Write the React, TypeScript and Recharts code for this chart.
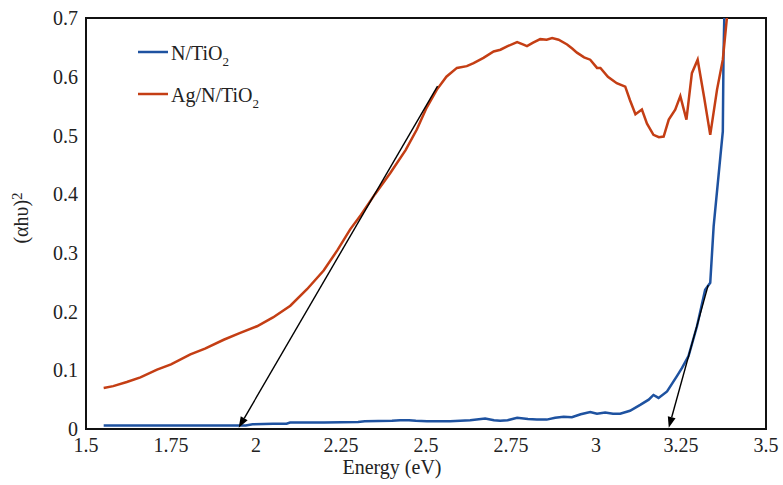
import React from 'react';
import { ComposedChart, Line, XAxis, YAxis, ReferenceLine, ReferenceArea, Label } from 'recharts';

const agEnergy = [
  1.552, 1.58, 1.62, 1.66, 1.709, 1.75, 1.807, 1.85, 1.905, 1.95, 2.003, 2.05, 2.101, 2.15, 2.199,
  2.24, 2.277, 2.309, 2.35, 2.395, 2.44, 2.473, 2.5, 2.532, 2.56, 2.591, 2.62, 2.64, 2.669, 2.699,
  2.719, 2.74, 2.768, 2.785, 2.797, 2.815, 2.836, 2.855, 2.871, 2.89, 2.915, 2.93, 2.944, 2.965,
  2.983, 3.003, 3.013, 3.035, 3.061, 3.086, 3.1, 3.116, 3.135, 3.15, 3.169, 3.185, 3.199, 3.214,
  3.233, 3.248, 3.266, 3.282, 3.299, 3.318, 3.336, 3.356, 3.373, 3.385, 3.39,
];
const agValues = [
  0.07, 0.073, 0.08, 0.088, 0.101, 0.11, 0.127, 0.137, 0.152, 0.163, 0.175, 0.19, 0.21, 0.238, 0.27,
  0.305, 0.34, 0.365, 0.4, 0.436, 0.475, 0.51, 0.545, 0.578, 0.6, 0.615, 0.618, 0.623, 0.632, 0.643,
  0.646, 0.652, 0.659, 0.655, 0.652, 0.658, 0.664, 0.663, 0.666, 0.663, 0.655, 0.648, 0.641, 0.633,
  0.629, 0.615, 0.615, 0.6, 0.589, 0.583, 0.56, 0.536, 0.544, 0.52, 0.501, 0.497, 0.498, 0.527,
  0.544, 0.567, 0.527, 0.606, 0.629, 0.565, 0.501, 0.578, 0.629, 0.7, 0.74,
];

const nEnergy = [
  1.552, 1.7, 1.85, 1.97, 1.99, 2.05, 2.09, 2.1, 2.2, 2.3, 2.32, 2.4, 2.424, 2.45, 2.47, 2.503,
  2.571, 2.63, 2.674, 2.7, 2.718, 2.74, 2.768, 2.8, 2.826, 2.855, 2.88, 2.905, 2.929, 2.955, 2.983,
  3.003, 3.027, 3.05, 3.071, 3.1, 3.13, 3.155, 3.169, 3.184, 3.209, 3.238, 3.253, 3.272, 3.297,
  3.321, 3.336, 3.346, 3.366, 3.373, 3.375, 3.378,
];
const nValues = [
  0.006, 0.006, 0.006, 0.006, 0.008, 0.009, 0.009, 0.011, 0.011, 0.012, 0.013, 0.014, 0.015, 0.015,
  0.014, 0.013, 0.013, 0.015, 0.018, 0.015, 0.014, 0.015, 0.019, 0.017, 0.016, 0.016, 0.019, 0.021,
  0.02, 0.025, 0.029, 0.026, 0.028, 0.026, 0.026, 0.031, 0.041, 0.05, 0.058, 0.053, 0.064, 0.09,
  0.104, 0.124, 0.175, 0.237, 0.249, 0.345, 0.465, 0.507, 0.635, 0.72,
];

const xTicks = [1.5, 1.75, 2, 2.25, 2.5, 2.75, 3, 3.25, 3.5];
const yTicks = [0, 0.1, 0.2, 0.3, 0.4, 0.5, 0.6, 0.7];

const arrowAg = [{ x: 2.534, y: 0.584 }, { x: 1.949, y: 0.002 }];
const arrowN = [{ x: 3.33, y: 0.245 }, { x: 3.214, y: 0.002 }];

const seriesNames = ['N/TiO', 'Ag/N/TiO'];
const BLUE = '#1E52A0';
const RED = '#C43E14';
const FONT = '"Liberation Serif", "Times New Roman", serif';

const agData = agEnergy.map((e, i) => ({ e, v: agValues[i] }));
const nData = nEnergy.map((e, i) => ({ e, v: nValues[i] }));

const ArrowShape = (props: any) => {
  const { x1, y1, x2, y2 } = props;
  if (x1 == null || x2 == null) return <g />;
  const dx = x2 - x1;
  const dy = y2 - y1;
  const len = Math.hypot(dx, dy) || 1;
  const ux = dx / len;
  const uy = dy / len;
  const hl = 11;
  const hw = 4;
  const bx = x2 - ux * hl;
  const by = y2 - uy * hl;
  const px = -uy;
  const py = ux;
  return (
    <g>
      <line x1={x1} y1={y1} x2={bx} y2={by} stroke="#000" strokeWidth={1.4} />
      <polygon
        points={`${x2},${y2} ${bx + px * hw},${by + py * hw} ${bx - px * hw},${by - py * hw}`}
        fill="#000"
      />
    </g>
  );
};

const Legend = () => (
  <svg width={170} height={90} style={{ position: 'absolute', left: 130, top: 30 }}>
    {[BLUE, RED].map((c, i) => (
      <g key={i}>
        <line x1={8} x2={38} y1={22 + i * 42} y2={22 + i * 42} stroke={c} strokeWidth={2.5} />
        <text x={41} y={30 + i * 42} fontFamily={FONT} fontSize={20} fill="#222">
          {seriesNames[i]}
          <tspan fontSize={13} dy={6}>2</tspan>
        </text>
      </g>
    ))}
  </svg>
);

export default function App() {
  return (
    <div style={{ position: 'absolute', left: 0, top: 0, width: 783, height: 485, background: '#fff' }}>
      <ComposedChart width={783} height={485} margin={{ top: 18, right: 17, bottom: 0, left: 0 }}>
        <XAxis
          type="number"
          dataKey="e"
          domain={[1.5, 3.5]}
          ticks={xTicks}
          allowDataOverflow
          height={56}
          tickLine={false}
          tickMargin={3}
          axisLine={{ stroke: '#111', strokeWidth: 2 }}
          tick={{ fill: '#222', fontSize: 20, fontFamily: FONT }}
        >
          <Label
            content={() => (
              <text x={392} y={474} textAnchor="middle" fontFamily={FONT} fontSize={20} fill="#222">
                Energy (eV)
              </text>
            )}
          />
        </XAxis>
        <YAxis
          type="number"
          domain={[0, 0.7]}
          ticks={yTicks}
          allowDataOverflow
          width={86}
          tickLine={false}
          axisLine={{ stroke: '#111', strokeWidth: 2 }}
          tick={{ fill: '#222', fontSize: 20, fontFamily: FONT }}
        >
          <Label
            content={() => (
              <text
                x={28}
                y={218}
                transform="rotate(-90 28 218)"
                textAnchor="middle"
                fontFamily={FONT}
                fontSize={20}
                fill="#222"
              >
                (αhυ)
                <tspan fontSize={15} dy={-6}>2</tspan>
              </text>
            )}
          />
        </YAxis>
        <ReferenceArea x1={1.5} x2={3.5} y1={0} y2={0.7} fill="none" stroke="#111" strokeWidth={2} fillOpacity={0} />
        <Line
          data={nData}
          dataKey="v"
          type="linear"
          stroke={BLUE}
          strokeWidth={2.5}
          dot={false}
          activeDot={false}
          isAnimationActive={false}
        />
        <Line
          data={agData}
          dataKey="v"
          type="linear"
          stroke={RED}
          strokeWidth={2.5}
          dot={false}
          activeDot={false}
          isAnimationActive={false}
        />
        <ReferenceLine segment={arrowAg} shape={ArrowShape} ifOverflow="visible" />
        <ReferenceLine segment={arrowN} shape={ArrowShape} ifOverflow="visible" />
      </ComposedChart>
      <Legend />
    </div>
  );
}
